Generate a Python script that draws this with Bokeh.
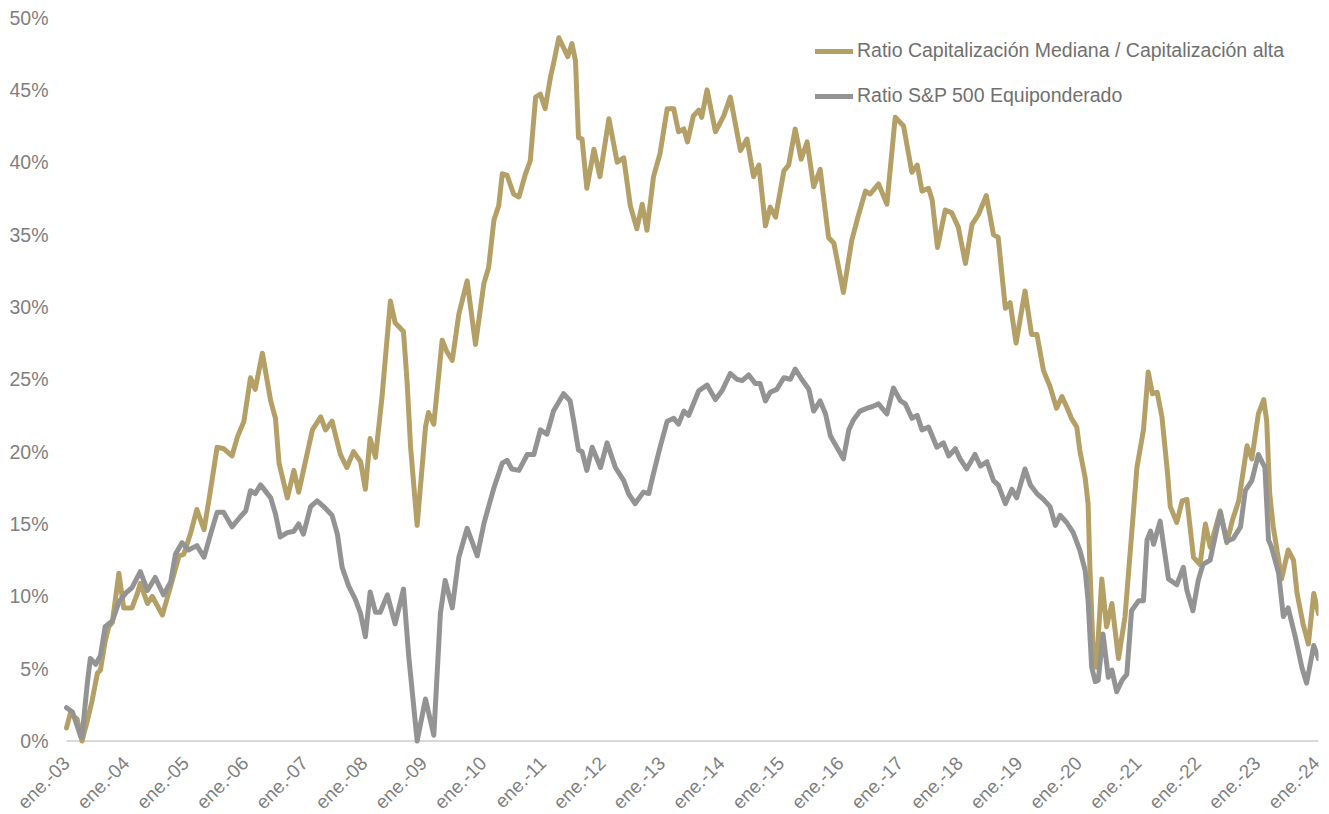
from bokeh.plotting import figure
from bokeh.models import Range1d, Legend, LegendItem, Label
from bokeh.embed import file_html
from bokeh.resources import INLINE
import math

# ---- data (decimal year, %) ----
mid_years = [2003.00, 2003.07, 2003.12, 2003.18, 2003.26, 2003.35, 2003.43, 2003.52, 2003.57, 2003.65,
             2003.71, 2003.77, 2003.88, 2003.96, 2004.10, 2004.19, 2004.24, 2004.36, 2004.44, 2004.61,
             2004.75, 2004.89, 2004.97, 2005.08, 2005.19, 2005.31, 2005.39, 2005.53, 2005.64, 2005.78,
             2005.87, 2005.98, 2006.09, 2006.17, 2006.29, 2006.43, 2006.51, 2006.57, 2006.71, 2006.82,
             2006.90, 2007.13, 2007.27, 2007.35, 2007.46, 2007.60, 2007.71, 2007.82, 2007.94, 2008.02,
             2008.10, 2008.19, 2008.30, 2008.44, 2008.52, 2008.66, 2008.72, 2008.78, 2008.89, 2009.03,
             2009.08, 2009.17, 2009.31, 2009.39, 2009.48, 2009.59, 2009.73, 2009.87, 2010.01, 2010.09,
             2010.18, 2010.26, 2010.32, 2010.40, 2010.51, 2010.60, 2010.71, 2010.79, 2010.88, 2010.96,
             2011.04, 2011.13, 2011.18, 2011.27, 2011.35, 2011.42, 2011.49, 2011.55, 2011.60, 2011.66,
             2011.74, 2011.86, 2011.96, 2012.11, 2012.25, 2012.36, 2012.47, 2012.58, 2012.67, 2012.75,
             2012.86, 2012.97, 2013.09, 2013.20, 2013.28, 2013.37, 2013.43, 2013.53, 2013.62, 2013.67,
             2013.76, 2013.90, 2014.04, 2014.15, 2014.32, 2014.43, 2014.54, 2014.63, 2014.74, 2014.82,
             2014.91, 2015.05, 2015.13, 2015.24, 2015.34, 2015.44, 2015.55, 2015.66, 2015.80, 2015.89,
             2016.05, 2016.19, 2016.30, 2016.42, 2016.50, 2016.64, 2016.78, 2016.92, 2017.06, 2017.20,
             2017.29, 2017.37, 2017.48, 2017.54, 2017.63, 2017.76, 2017.87, 2017.98, 2018.10, 2018.21,
             2018.32, 2018.45, 2018.57, 2018.65, 2018.77, 2018.85, 2018.95, 2019.10, 2019.21, 2019.30,
             2019.41, 2019.52, 2019.63, 2019.72, 2019.80, 2019.88, 2019.97, 2020.02, 2020.11, 2020.16,
             2020.19, 2020.25, 2020.30, 2020.39, 2020.47, 2020.56, 2020.67, 2020.78, 2020.87, 2020.98,
             2021.09, 2021.17, 2021.24, 2021.32, 2021.40, 2021.49, 2021.54, 2021.65, 2021.74, 2021.82,
             2021.93, 2022.04, 2022.13, 2022.21, 2022.38, 2022.49, 2022.58, 2022.69, 2022.83, 2022.91,
             2023.02, 2023.11, 2023.16, 2023.21, 2023.27, 2023.36, 2023.41, 2023.52, 2023.61, 2023.67,
             2023.77, 2023.86, 2023.95, 2024.03]
mid_vals = [0.9, 2.0, 1.7, 1.5, 0.0, 1.4, 2.8, 4.7, 4.9, 6.9,
            7.9, 8.2, 11.6, 9.2, 9.2, 10.2, 10.9, 9.5, 10.0, 8.7,
            10.7, 12.8, 12.9, 14.3, 16.0, 14.6, 16.6, 20.3, 20.2, 19.7,
            21.0, 22.1, 25.1, 24.3, 26.8, 23.5, 22.3, 19.2, 16.8, 18.7,
            17.2, 21.5, 22.4, 21.5, 22.1, 19.8, 18.9, 20.0, 19.3, 17.4,
            20.9, 19.6, 23.8, 30.4, 28.9, 28.3, 24.9, 20.3, 14.9, 21.7,
            22.7, 21.9, 27.7, 26.9, 26.3, 29.5, 31.8, 27.4, 31.6, 32.7,
            36.0, 37.0, 39.2, 39.1, 37.8, 37.6, 39.2, 40.1, 44.5, 44.7,
            43.7, 45.9, 46.8, 48.6, 47.9, 47.3, 48.2, 47.0, 41.7, 41.6,
            38.2, 40.9, 39.0, 43.0, 40.0, 40.3, 37.0, 35.4, 37.1, 35.3,
            39.0, 40.6, 43.7, 43.7, 42.1, 42.3, 41.4, 43.2, 43.6, 43.1,
            45.0, 42.1, 43.2, 44.5, 40.8, 41.6, 39.0, 39.8, 35.6, 36.9,
            36.2, 39.4, 39.8, 42.3, 40.2, 41.4, 38.3, 39.5, 34.8, 34.4,
            31.0, 34.6, 36.3, 38.0, 37.8, 38.5, 37.1, 43.1, 42.5, 39.3,
            39.8, 38.0, 38.2, 37.4, 34.1, 36.7, 36.5, 35.5, 33.0, 35.7,
            36.4, 37.7, 35.0, 34.8, 29.9, 30.3, 27.5, 31.1, 28.1, 28.1,
            25.6, 24.5, 23.0, 23.8, 23.1, 22.3, 21.7, 20.1, 18.2, 16.4,
            12.0, 5.6, 5.1, 11.2, 7.9, 9.5, 5.7, 8.6, 13.2, 18.9,
            21.5, 25.5, 24.0, 24.1, 22.4, 18.7, 16.2, 15.1, 16.6, 16.7,
            12.7, 12.2, 15.0, 13.4, 15.9, 13.7, 15.2, 16.6, 20.4, 19.5,
            22.6, 23.6, 22.1, 17.1, 14.8, 12.5, 11.2, 13.2, 12.5, 10.2,
            8.1, 6.7, 10.2, 8.8]

ew_years = [2003.00, 2003.10, 2003.24, 2003.26, 2003.35, 2003.40, 2003.49, 2003.57, 2003.65, 2003.77,
            2003.88, 2003.99, 2004.10, 2004.24, 2004.36, 2004.49, 2004.63, 2004.75, 2004.83, 2004.94,
            2005.05, 2005.19, 2005.31, 2005.42, 2005.53, 2005.64, 2005.78, 2005.92, 2006.01, 2006.09,
            2006.17, 2006.26, 2006.43, 2006.51, 2006.59, 2006.71, 2006.82, 2006.90, 2006.98, 2007.10,
            2007.21, 2007.32, 2007.46, 2007.55, 2007.63, 2007.74, 2007.85, 2007.94, 2008.02, 2008.10,
            2008.19, 2008.27, 2008.39, 2008.52, 2008.66, 2008.75, 2008.89, 2009.03, 2009.17, 2009.28,
            2009.36, 2009.48, 2009.59, 2009.73, 2009.90, 2010.01, 2010.09, 2010.18, 2010.32, 2010.40,
            2010.48, 2010.60, 2010.74, 2010.85, 2010.96, 2011.07, 2011.18, 2011.35, 2011.46, 2011.52,
            2011.60, 2011.66, 2011.74, 2011.83, 2011.97, 2012.08, 2012.22, 2012.36, 2012.44, 2012.55,
            2012.69, 2012.78, 2012.86, 2012.97, 2013.09, 2013.20, 2013.28, 2013.37, 2013.45, 2013.62,
            2013.76, 2013.90, 2014.01, 2014.15, 2014.26, 2014.35, 2014.46, 2014.57, 2014.65, 2014.74,
            2014.82, 2014.93, 2015.05, 2015.16, 2015.24, 2015.35, 2015.47, 2015.55, 2015.66, 2015.75,
            2015.83, 2015.94, 2016.05, 2016.14, 2016.22, 2016.33, 2016.45, 2016.53, 2016.64, 2016.78,
            2016.89, 2017.01, 2017.09, 2017.20, 2017.29, 2017.37, 2017.48, 2017.62, 2017.73, 2017.82,
            2017.93, 2018.01, 2018.12, 2018.26, 2018.35, 2018.46, 2018.57, 2018.65, 2018.77, 2018.88,
            2018.96, 2019.10, 2019.19, 2019.30, 2019.41, 2019.52, 2019.61, 2019.69, 2019.80, 2019.91,
            2020.02, 2020.11, 2020.16, 2020.22, 2020.28, 2020.33, 2020.41, 2020.50, 2020.56, 2020.64,
            2020.73, 2020.81, 2020.89, 2021.01, 2021.09, 2021.15, 2021.21, 2021.26, 2021.37, 2021.51,
            2021.65, 2021.76, 2021.82, 2021.92, 2022.01, 2022.09, 2022.21, 2022.38, 2022.49, 2022.60,
            2022.72, 2022.80, 2022.91, 2023.02, 2023.13, 2023.19, 2023.24, 2023.36, 2023.44, 2023.52,
            2023.64, 2023.75, 2023.83, 2023.95, 2024.03]
ew_vals = [2.3, 2.0, 0.3, 0.3, 4.0, 5.7, 5.3, 5.9, 7.9, 8.3,
           9.6, 10.2, 10.6, 11.7, 10.4, 11.3, 10.1, 11.0, 12.9, 13.7,
           13.2, 13.5, 12.7, 14.3, 15.8, 15.8, 14.8, 15.5, 15.9, 17.3,
           17.1, 17.7, 16.8, 15.7, 14.1, 14.4, 14.5, 15.0, 14.3, 16.2,
           16.6, 16.2, 15.6, 14.3, 12.0, 10.7, 9.8, 8.8, 7.2, 10.3,
           8.9, 8.9, 10.1, 8.1, 10.5, 5.8, 0.0, 2.9, 0.4, 8.8,
           11.1, 9.2, 12.7, 14.7, 12.8, 15.0, 16.2, 17.5, 19.2, 19.4,
           18.8, 18.7, 19.8, 19.8, 21.5, 21.2, 22.8, 24.0, 23.5, 22.1,
           20.1, 20.0, 18.7, 20.3, 18.9, 20.6, 18.9, 18.0, 17.1, 16.4,
           17.2, 17.1, 18.5, 20.3, 22.1, 22.3, 21.9, 22.8, 22.5, 24.2,
           24.6, 23.6, 24.2, 25.4, 25.0, 24.9, 25.3, 24.7, 24.7, 23.5,
           24.1, 24.3, 25.1, 25.0, 25.7, 25.0, 24.3, 22.8, 23.5, 22.6,
           21.1, 20.3, 19.5, 21.5, 22.2, 22.8, 23.0, 23.1, 23.3, 22.6,
           24.4, 23.5, 23.3, 22.3, 22.5, 21.5, 21.7, 20.3, 20.6, 19.7,
           20.2, 19.5, 18.8, 19.8, 19.0, 19.3, 18.0, 17.7, 16.4, 17.4,
           16.8, 18.8, 17.7, 17.1, 16.7, 16.2, 14.9, 15.6, 15.1, 14.4,
           13.2, 11.8, 9.7, 5.1, 4.1, 4.2, 7.4, 4.4, 4.9, 3.4,
           4.2, 4.6, 9.0, 9.7, 9.7, 13.9, 14.5, 13.6, 15.2, 11.2,
           10.8, 12.0, 10.4, 9.0, 11.1, 12.2, 12.5, 15.8, 13.8, 14.0,
           14.8, 17.3, 18.0, 19.8, 18.9, 13.9, 13.4, 11.6, 8.6, 9.2,
           7.2, 5.1, 4.0, 6.6, 5.7]

series_names = ["Ratio Capitalización Mediana / Capitalización alta",
                "Ratio S&P 500 Equiponderado"]
tick_years = [2003, 2004, 2005, 2006, 2007, 2008, 2009, 2010, 2011, 2012, 2013,
              2014, 2015, 2016, 2017, 2018, 2019, 2020, 2021, 2022, 2023, 2024]
tick_labels = ["ene.-03", "ene.-04", "ene.-05", "ene.-06", "ene.-07", "ene.-08", "ene.-09",
               "ene.-10", "ene.-11", "ene.-12", "ene.-13", "ene.-14", "ene.-15", "ene.-16",
               "ene.-17", "ene.-18", "ene.-19", "ene.-20", "ene.-21", "ene.-22", "ene.-23", "ene.-24"]
y_ticks = [0, 5, 10, 15, 20, 25, 30, 35, 40, 45, 50]
y_labels = ["0%", "5%", "10%", "15%", "20%", "25%", "30%", "35%", "40%", "45%", "50%"]
x_start, x_end = 2003.0, 2024.03

GOLD = "#b4a066"
GREY = "#939393"
TXT = "#7f7f7f"
FONT = "Liberation Sans"
FS = "19.5px"

# The frame fills the page so that the axis texts (drawn as annotations) are not clipped.
# 2003 sits 66 px from the left edge, 0 % sits 740.5 px from the top, 50 % at 17 px.
PPX = (1318 - 66) / (x_end - x_start)          # px per year
PPY = (740.5 - 17) / 50.0                       # px per percentage point
p = figure(width=1329, height=814, output_backend="svg", toolbar_location=None,
           x_range=Range1d(x_start - 66 / PPX, x_end),
           y_range=Range1d(-(814 - 740.5) / PPY, 50 + 17 / PPY),
           x_axis_location=None, y_axis_location=None,
           min_border_left=0, min_border_right=11, min_border_top=0, min_border_bottom=0)
p.outline_line_color = None
p.background_fill_color = "white"
p.border_fill_color = "white"
p.xgrid.visible = False
p.ygrid.visible = False

# horizontal category axis line at 0 %
p.segment(x0=[x_start], y0=[0], x1=[x_end], y1=[0], line_color="#d9d9d9", line_width=2)

r1 = p.line(mid_years, mid_vals, line_color=GOLD, line_width=5, line_join="round", line_cap="round")
r2 = p.line(ew_years, ew_vals, line_color=GREY, line_width=5, line_join="round", line_cap="round")

for yr, lab in zip(tick_years, tick_labels):
    p.add_layout(Label(x=yr, y=0, text=lab, angle=math.pi / 4,
                       x_offset=0, y_offset=-19,
                       text_align="right", text_baseline="middle",
                       text_font=FONT, text_font_size="19px", text_color=TXT))

for v, lab in zip(y_ticks, y_labels):
    p.add_layout(Label(x=x_start, y=v, text=lab, x_offset=-18, y_offset=0,
                       text_align="right", text_baseline="middle",
                       text_font=FONT, text_font_size=FS, text_color=TXT))

legend = Legend(items=[LegendItem(label=series_names[0], renderers=[r1]),
                       LegendItem(label=series_names[1], renderers=[r2])],
                location=(815, 707), orientation="vertical",
                glyph_width=38, glyph_height=20, label_height=20, spacing=22,
                padding=0, margin=0, label_standoff=4,
                border_line_alpha=0, background_fill_alpha=0,
                label_text_font=FONT, label_text_font_size=FS, label_text_color="#707070")
p.add_layout(legend)

open("out.html", "w").write(file_html(p, INLINE))
